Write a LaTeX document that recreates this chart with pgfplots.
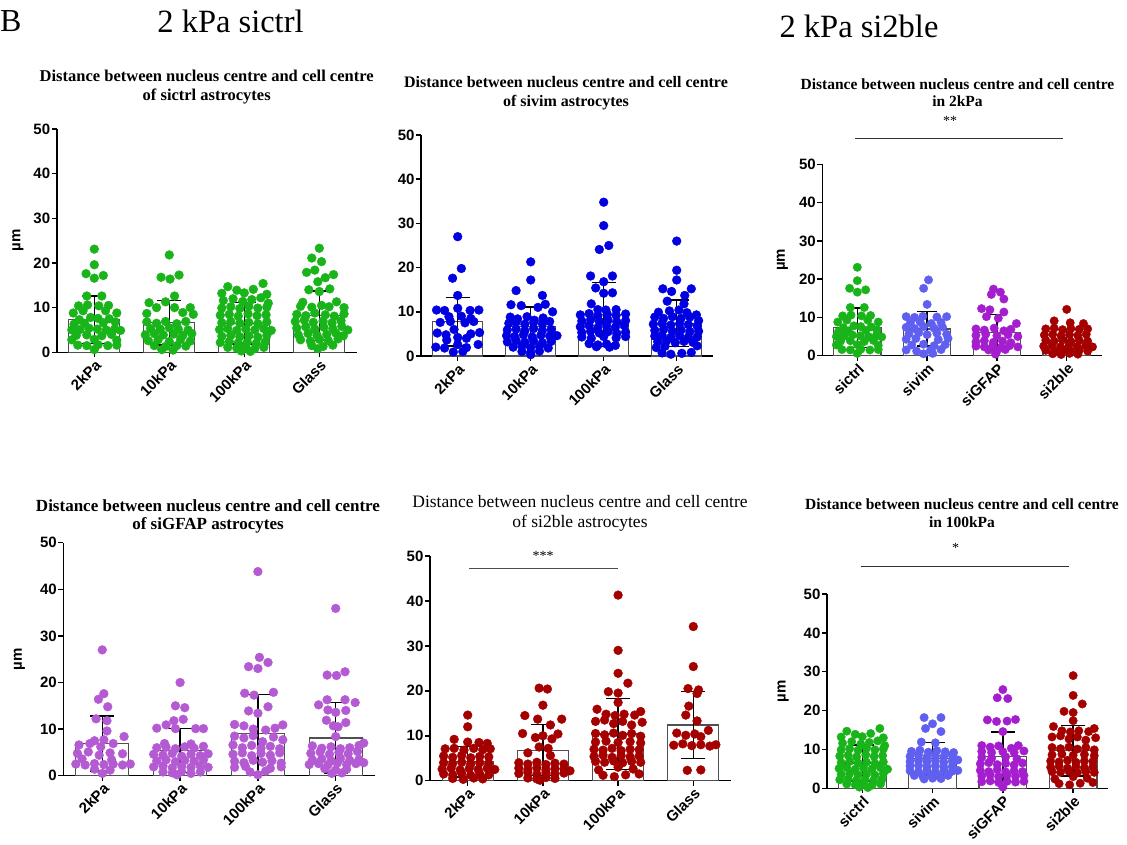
\documentclass[border=0pt]{standalone}
\usepackage{pgfplots}
\pgfplotsset{compat=1.18}
\usepackage{pgfplotstable}
\usepackage{fontspec}
\setmainfont{Liberation Serif}
\newfontfamily\sansf{Liberation Sans}
\newcommand\tickf{\sansf\bfseries\fontsize{15}{15}\selectfont}
\newcommand\labf{\sansf\bfseries\fontsize{15}{15}\selectfont}
\newcommand\ttlb[1]{\bfseries\fontsize{#1}{19}\selectfont}
\newcommand\ttlr[1]{\fontsize{#1}{19}\selectfont}
\definecolor{cg}{RGB}{25,180,25}
\definecolor{cb}{RGB}{0,0,225}
\definecolor{clb}{RGB}{95,95,240}
\definecolor{clp}{RGB}{180,90,210}
\definecolor{cp}{RGB}{165,30,205}
\definecolor{cr}{RGB}{165,0,0}
\definecolor{barc}{RGB}{80,80,80}

% ---------- panel A: sictrl ----------
\pgfplotstableread[row sep=\\]{dx y\\ 0 23.1\\ 0 19.6\\ -0.11 17.6\\ 0.12 17.2\\ 0 16.6\\ -0.1 12.6\\ 0.1 12.6\\ -0.21 10.4\\ -0.09 10.6\\ 0.06 10.4\\ 0.19 10.5\\ -0.28 8.8\\ 0.3 8.8\\ -0.15 9.3\\ 0.15 9.3\\ -0.05 7.8\\ 0.05 7.6\\ -0.2 7.3\\ 0.2 7.5\\ 0.28 6.8\\ -0.27 6.3\\ -0.13 6.5\\ 0.12 6.6\\ -0.3 5.0\\ -0.19 5.1\\ -0.07 5.4\\ 0.04 5.2\\ 0.16 5.0\\ 0.27 5.2\\ 0.35 4.9\\ -0.24 3.8\\ -0.1 3.9\\ 0.1 3.7\\ 0.23 4.0\\ -0.3 2.8\\ 0 2.9\\ 0.3 2.7\\ -0.22 1.6\\ -0.1 1.5\\ 0.05 1.7\\ 0.18 1.5\\ 0.3 1.6\\ 0 0.6\\}\TAa
\pgfplotstableread[row sep=\\]{dx y\\ 0 21.8\\ -0.11 16.8\\ 0.01 16.4\\ 0.13 17.3\\ 0.07 12.6\\ -0.27 11.1\\ -0.05 11.3\\ -0.17 10.0\\ 0.07 10.0\\ 0.28 10.0\\ -0.3 8.7\\ 0.18 8.9\\ 0.32 8.5\\ -0.3 6.8\\ -0.17 6.5\\ -0.05 6.9\\ 0.1 6.4\\ 0.22 6.9\\ -0.25 5.3\\ -0.12 5.2\\ 0 5.5\\ 0.12 5.2\\ 0.25 5.0\\ -0.32 3.9\\ -0.2 4.2\\ -0.08 3.9\\ 0.06 4.1\\ 0.18 3.8\\ 0.3 4.2\\ -0.28 2.6\\ -0.15 2.8\\ 0 2.4\\ 0.15 2.9\\ 0.28 2.5\\ -0.2 1.5\\ -0.05 1.3\\ 0.1 1.5\\ 0.22 1.4\\ -0.1 0.6\\ 0.05 0.5\\}\TAb
\pgfplotstableread[row sep=\\]{dx y\\ -0.22 14.7\\ -0.1 13.9\\ 0 13.3\\ 0.12 14.1\\ 0.25 15.4\\ -0.3 13.2\\ 0.3 13.0\\ -0.28 11.6\\ -0.15 12.0\\ -0.02 11.4\\ 0.1 11.8\\ 0.22 12.2\\ 0.32 11.0\\ -0.3 9.9\\ -0.18 10.2\\ -0.06 9.8\\ 0.06 10.3\\ 0.18 9.9\\ 0.3 10.1\\ -0.32 8.3\\ -0.2 8.5\\ -0.08 8.1\\ 0.05 8.6\\ 0.17 8.2\\ 0.29 8.4\\ -0.3 6.6\\ -0.18 6.9\\ -0.06 6.5\\ 0.06 6.7\\ 0.18 6.4\\ 0.3 6.8\\ -0.33 5.1\\ -0.22 5.3\\ -0.1 4.9\\ 0.02 5.2\\ 0.14 5.0\\ 0.26 5.3\\ 0.36 4.9\\ -0.3 3.6\\ -0.18 3.8\\ -0.06 3.5\\ 0.06 3.7\\ 0.18 3.4\\ 0.3 3.8\\ -0.32 2.2\\ -0.2 2.4\\ -0.08 2.1\\ 0.04 2.3\\ 0.16 2.0\\ 0.28 2.3\\ -0.22 1.1\\ -0.1 0.9\\ 0.02 1.2\\ 0.14 0.8\\ 0.26 1.1\\ -0.04 0.3\\ 0.08 0.2\\}\TAc
\pgfplotstableread[row sep=\\]{dx y\\ 0 23.3\\ -0.1 21.1\\ 0.03 20.3\\ -0.17 17.9\\ -0.06 18.4\\ 0.08 16.7\\ 0.19 17.4\\ -0.02 15.8\\ -0.14 14.0\\ 0 13.6\\ 0.14 14.2\\ -0.22 11.2\\ 0.23 11.3\\ 0.33 10.0\\ -0.25 10.3\\ -0.1 10.1\\ 0.03 10.5\\ 0.13 10.2\\ -0.3 8.5\\ -0.18 8.2\\ -0.06 8.8\\ 0.08 8.4\\ 0.2 8.1\\ 0.33 8.6\\ -0.32 6.9\\ -0.2 7.2\\ -0.08 6.7\\ 0.05 7.0\\ 0.17 6.6\\ 0.29 7.1\\ -0.3 5.4\\ -0.18 5.7\\ -0.06 5.2\\ 0.06 5.6\\ 0.18 5.3\\ 0.3 5.8\\ 0.38 5.0\\ -0.28 3.9\\ -0.15 4.2\\ -0.03 3.8\\ 0.1 4.0\\ 0.22 4.3\\ 0.32 3.7\\ -0.25 2.8\\ -0.12 2.5\\ 0 2.9\\ 0.12 2.6\\ 0.25 3.0\\ -0.1 1.5\\ 0.05 1.3\\ 0.18 1.6\\ -0.02 0.8\\}\TAd
% ---------- panel B: sivim ----------
\pgfplotstableread[row sep=\\]{dx y\\ 0 27.0\\ 0.05 19.8\\ -0.07 17.6\\ 0 13.7\\ -0.29 10.4\\ -0.18 10.3\\ 0 10.8\\ 0.17 10.3\\ 0.29 10.4\\ -0.12 8.9\\ 0.05 9.0\\ 0.18 8.5\\ -0.24 7.6\\ -0.1 7.8\\ 0.1 7.5\\ 0.22 7.8\\ -0.05 6.0\\ -0.28 5.2\\ -0.16 4.8\\ 0.18 5.0\\ 0.3 5.3\\ 0 4.2\\ -0.15 3.6\\ 0.12 4.0\\ -0.3 2.0\\ -0.18 1.8\\ 0.12 1.9\\ 0.28 2.6\\ 0 2.6\\ -0.06 0.9\\ 0.07 1.0\\}\TBa
\pgfplotstableread[row sep=\\]{dx y\\ 0 21.3\\ 0 17.2\\ -0.2 14.8\\ 0.16 13.7\\ -0.27 11.6\\ -0.13 11.4\\ 0.1 11.0\\ 0.2 11.7\\ -0.28 8.8\\ -0.18 8.4\\ -0.05 8.9\\ 0.05 8.1\\ 0.17 8.6\\ 0.3 10.0\\ -0.3 7.4\\ -0.2 7.7\\ -0.08 7.2\\ 0.04 7.6\\ 0.16 7.3\\ 0.26 7.8\\ -0.32 5.9\\ -0.2 6.1\\ -0.08 5.7\\ 0.04 6.2\\ 0.16 5.8\\ 0.28 6.0\\ -0.33 4.6\\ -0.22 4.4\\ -0.1 4.8\\ 0.02 4.3\\ 0.14 4.7\\ 0.26 4.5\\ 0.36 4.6\\ -0.32 3.2\\ -0.2 3.5\\ -0.08 3.1\\ 0.04 3.4\\ 0.16 3.0\\ 0.28 3.3\\ -0.24 2.0\\ -0.12 2.3\\ 0 1.9\\ 0.12 2.2\\ 0.24 1.8\\ -0.12 1.0\\ 0 0.8\\ 0.12 1.1\\ 0 0.3\\}\TBb
\pgfplotstableread[row sep=\\]{dx y\\ 0 34.8\\ 0 29.5\\ -0.06 24.1\\ 0.07 25.0\\ -0.18 18.1\\ 0.12 18.1\\ 0 16.8\\ -0.11 15.4\\ 0.12 14.3\\ 0 14.2\\ -0.17 11.8\\ 0.17 10.5\\ 0.03 10.4\\ -0.08 10.5\\ -0.32 9.3\\ -0.2 9.6\\ -0.08 9.1\\ 0.05 9.4\\ 0.17 9.2\\ 0.3 9.5\\ -0.3 7.9\\ -0.18 8.2\\ -0.06 7.8\\ 0.06 8.1\\ 0.18 7.7\\ 0.3 8.0\\ -0.32 6.6\\ -0.2 6.9\\ -0.08 6.4\\ 0.04 6.8\\ 0.16 6.5\\ 0.28 6.9\\ -0.3 5.3\\ -0.18 5.6\\ -0.06 5.2\\ 0.06 5.5\\ 0.18 5.1\\ 0.3 5.4\\ -0.3 4.3\\ -0.17 4.0\\ 0 4.4\\ 0.17 4.1\\ 0.3 4.4\\ -0.2 2.8\\ -0.08 2.5\\ 0.04 2.7\\ 0.16 2.4\\ -0.1 2.1\\ 0.08 2.0\\}\TBc
\pgfplotstableread[row sep=\\]{dx y\\ 0 26.0\\ 0 19.4\\ 0 17.2\\ -0.19 15.2\\ -0.07 14.6\\ 0.11 13.7\\ 0.2 15.2\\ -0.13 12.4\\ 0.1 11.8\\ -0.25 9.9\\ -0.1 10.2\\ 0.03 10.4\\ 0.14 9.8\\ 0.27 9.3\\ -0.3 8.8\\ -0.18 8.5\\ -0.06 8.9\\ 0.06 8.5\\ 0.18 8.8\\ 0.3 8.0\\ -0.32 7.2\\ -0.2 7.4\\ -0.08 7.0\\ 0.04 7.3\\ 0.16 7.1\\ 0.28 6.8\\ -0.3 5.8\\ -0.18 6.0\\ -0.06 5.6\\ 0.06 5.9\\ 0.18 5.5\\ 0.3 5.6\\ -0.3 4.5\\ -0.2 4.7\\ -0.08 4.2\\ 0.04 4.6\\ 0.16 4.3\\ 0.28 4.3\\ -0.26 3.2\\ -0.14 3.4\\ -0.02 3.0\\ 0.1 3.3\\ 0.22 3.1\\ -0.28 1.9\\ -0.16 2.2\\ 0.28 2.3\\ -0.2 0.7\\ -0.08 0.4\\ 0.07 0.6\\ 0.2 0.8\\}\TBd
% ---------- panel C: 2kPa ----------
\pgfplotstableread[row sep=\\]{dx y\\ 0.02 19.8\\ -0.05 17.6\\ 0 13.4\\ -0.3 10.2\\ -0.18 10.0\\ -0.06 10.3\\ 0.14 10.1\\ 0.28 10.2\\ -0.24 8.6\\ -0.1 8.8\\ 0.06 8.4\\ 0.2 8.7\\ -0.3 7.4\\ -0.18 7.1\\ -0.05 7.6\\ 0.1 7.2\\ 0.22 7.5\\ -0.26 5.7\\ -0.12 6.0\\ 0 5.5\\ 0.14 5.9\\ 0.28 5.6\\ -0.3 4.3\\ -0.16 4.5\\ 0.16 4.2\\ 0.3 4.5\\ -0.22 2.8\\ -0.05 3.0\\ 0.1 2.6\\ 0.26 2.9\\ -0.3 1.5\\ -0.15 1.2\\ 0.05 1.5\\ 0.2 1.6\\ -0.05 0.5\\ 0.08 0.6\\}\TCb
\pgfplotstableread[row sep=\\]{dx y\\ -0.05 17.4\\ 0.05 16.6\\ -0.08 16.0\\ 0.1 14.8\\ -0.22 12.3\\ -0.1 12.0\\ 0.1 11.4\\ -0.15 10.2\\ 0.02 9.8\\ 0.28 8.4\\ -0.3 7.0\\ -0.18 6.7\\ -0.04 7.2\\ 0.1 6.5\\ 0.2 6.9\\ -0.3 5.3\\ -0.16 5.6\\ 0 5.2\\ 0.16 5.5\\ 0.3 5.0\\ -0.3 3.6\\ -0.18 3.9\\ -0.05 3.5\\ 0.08 3.8\\ 0.2 3.4\\ -0.3 2.5\\ -0.18 2.3\\ -0.06 2.6\\ 0.06 2.2\\ 0.18 2.6\\ 0.3 2.3\\ -0.12 1.5\\ 0 1.2\\ 0.12 1.6\\ -0.02 0.4\\}\TCc
\pgfplotstableread[row sep=\\]{dx y\\ 0 12.1\\ -0.18 9.1\\ 0.05 8.6\\ 0.24 8.4\\ -0.3 7.0\\ -0.18 7.2\\ -0.06 6.8\\ 0.06 7.1\\ 0.18 6.9\\ 0.3 7.0\\ -0.32 5.4\\ -0.2 5.6\\ -0.08 5.2\\ 0.04 5.5\\ 0.16 5.3\\ 0.28 5.6\\ -0.3 4.0\\ -0.18 3.8\\ -0.06 4.1\\ 0.06 3.7\\ 0.18 4.0\\ 0.3 3.8\\ -0.33 2.5\\ -0.21 2.7\\ -0.09 2.3\\ 0.03 2.6\\ 0.15 2.4\\ 0.27 2.6\\ 0.37 2.3\\ -0.3 1.4\\ -0.18 1.2\\ -0.06 1.5\\ 0.06 1.1\\ 0.18 1.4\\ 0.3 1.2\\ -0.2 0.5\\ -0.08 0.3\\ 0.04 0.6\\ 0.16 0.4\\}\TCd
% ---------- panel D: siGFAP ----------
\pgfplotstableread[row sep=\\]{dx y\\ 0 27.0\\ 0.02 17.6\\ -0.05 16.4\\ 0.07 14.8\\ -0.08 12.2\\ 0.06 11.8\\ 0.06 9.6\\ 0.28 8.4\\ -0.1 7.5\\ 0.02 7.7\\ -0.3 6.6\\ -0.16 6.9\\ -0.02 6.2\\ 0.14 6.9\\ -0.32 4.8\\ -0.18 5.1\\ -0.04 4.4\\ 0.1 4.9\\ 0.26 4.7\\ -0.26 3.6\\ 0.12 3.4\\ -0.34 2.5\\ -0.22 2.3\\ -0.1 2.6\\ 0.02 2.4\\ 0.14 2.5\\ 0.26 2.3\\ 0.36 2.5\\ -0.1 1.4\\ 0.1 1.2\\ 0 0.5\\}\TDa
\pgfplotstableread[row sep=\\]{dx y\\ 0 20.0\\ -0.06 15.0\\ 0.06 14.6\\ -0.08 11.8\\ 0.04 12.1\\ -0.18 10.9\\ -0.3 10.2\\ -0.06 10.1\\ 0.2 10.1\\ 0.3 10.1\\ -0.2 6.9\\ 0.14 6.8\\ -0.3 6.0\\ -0.18 6.1\\ -0.06 5.8\\ 0.06 6.2\\ 0.18 5.9\\ 0.3 6.3\\ -0.34 4.6\\ -0.22 4.4\\ -0.1 4.8\\ 0.02 4.2\\ 0.14 4.6\\ 0.26 4.3\\ 0.36 4.7\\ -0.3 3.2\\ -0.18 3.4\\ -0.06 3.0\\ 0.06 3.3\\ 0.18 3.1\\ 0.3 3.4\\ -0.34 1.9\\ -0.22 2.1\\ -0.1 1.7\\ 0.02 2.0\\ 0.14 1.8\\ 0.26 2.1\\ 0.36 1.8\\ -0.22 0.8\\ -0.1 0.6\\ 0.02 0.9\\ 0.14 0.5\\ 0.26 0.8\\ -0.04 0.2\\}\TDb
\pgfplotstableread[row sep=\\]{dx y\\ 0 43.8\\ 0.02 25.4\\ 0.13 24.3\\ -0.12 23.4\\ 0 23.0\\ -0.17 17.7\\ 0.2 17.9\\ -0.05 17.3\\ -0.12 13.9\\ 0.13 14.8\\ 0 13.4\\ -0.3 11.0\\ -0.18 10.7\\ -0.06 10.0\\ 0.1 9.8\\ 0.22 10.2\\ 0.32 10.9\\ -0.3 8.5\\ -0.18 8.1\\ -0.06 8.6\\ 0.06 7.3\\ 0.2 8.3\\ 0.32 7.7\\ -0.32 6.6\\ -0.2 6.0\\ -0.08 6.5\\ 0.04 5.9\\ 0.16 6.3\\ 0.28 5.8\\ -0.32 4.6\\ -0.2 4.9\\ -0.08 4.3\\ 0.04 4.8\\ 0.16 4.4\\ 0.28 4.9\\ -0.3 3.1\\ -0.18 2.8\\ -0.06 3.3\\ 0.06 2.9\\ 0.18 3.2\\ 0.3 2.7\\ -0.3 1.8\\ -0.16 2.0\\ 0.16 1.6\\ 0.3 1.9\\ -0.1 0.8\\ 0 0.2\\ 0.1 1.0\\}\TDc
\pgfplotstableread[row sep=\\]{dx y\\ 0 35.9\\ 0.12 22.3\\ -0.11 21.6\\ 0.01 21.5\\ -0.22 15.2\\ -0.11 16.3\\ 0.12 16.3\\ 0.25 15.7\\ -0.1 14.1\\ 0.13 14.0\\ 0 13.6\\ -0.12 11.9\\ 0.13 11.4\\ -0.03 10.7\\ 0.03 10.5\\ 0 8.4\\ -0.3 6.4\\ -0.18 5.9\\ -0.06 6.2\\ 0.06 5.8\\ 0.18 6.0\\ 0.3 6.5\\ 0.36 7.0\\ -0.32 4.8\\ -0.2 5.1\\ -0.08 4.6\\ 0.04 5.0\\ 0.16 4.7\\ 0.28 5.2\\ -0.3 3.4\\ -0.18 3.6\\ -0.06 3.2\\ 0.06 3.7\\ 0.18 3.3\\ 0.3 3.5\\ -0.34 2.4\\ -0.22 2.6\\ -0.1 2.3\\ 0.02 2.7\\ 0.14 2.4\\ 0.26 2.6\\ 0.36 2.8\\ -0.14 1.5\\ 0 1.2\\ 0.14 1.4\\ -0.05 0.5\\ 0.08 0.6\\}\TDd
% ---------- panel E: si2ble ----------
\pgfplotstableread[row sep=\\]{dx y\\ 0 14.6\\ 0 12.0\\ -0.18 9.2\\ 0 8.6\\ 0.15 8.5\\ 0.26 8.3\\ -0.3 7.1\\ -0.18 7.2\\ -0.05 6.8\\ 0.08 7.2\\ 0.2 6.9\\ 0.3 7.1\\ -0.32 5.5\\ -0.2 5.2\\ -0.08 5.6\\ 0.04 5.1\\ 0.16 5.4\\ 0.28 5.3\\ -0.32 4.0\\ -0.2 3.8\\ -0.08 4.1\\ 0.04 3.7\\ 0.16 4.0\\ 0.28 3.8\\ -0.34 2.6\\ -0.22 2.8\\ -0.1 2.4\\ 0.02 2.7\\ 0.14 2.5\\ 0.26 2.8\\ 0.36 2.5\\ -0.32 1.5\\ -0.2 1.3\\ -0.08 1.6\\ 0.04 1.2\\ 0.16 1.5\\ 0.28 1.3\\ -0.2 0.5\\ -0.06 0.3\\ 0.08 0.6\\ 0.2 0.4\\}\TEa
\pgfplotstableread[row sep=\\]{dx y\\ -0.05 20.6\\ 0.06 20.4\\ 0 16.8\\ -0.24 14.5\\ -0.07 13.7\\ 0.25 13.7\\ 0.1 12.4\\ -0.27 10.5\\ -0.1 9.6\\ 0 10.0\\ 0.12 9.3\\ 0.2 10.4\\ -0.05 7.5\\ 0.07 7.2\\ -0.2 6.2\\ 0.1 5.6\\ -0.32 4.0\\ -0.2 3.7\\ -0.08 4.1\\ 0.04 3.6\\ 0.16 3.9\\ 0.28 3.7\\ -0.32 2.8\\ -0.2 2.5\\ -0.08 2.9\\ 0.04 2.4\\ 0.16 2.7\\ 0.28 2.6\\ 0.36 2.2\\ -0.32 1.6\\ -0.2 1.9\\ -0.08 1.4\\ 0.04 1.8\\ 0.16 1.5\\ 0.28 1.7\\ -0.2 0.6\\ -0.08 0.4\\ 0.04 0.7\\ 0.16 0.5\\ -0.04 0.1\\}\TEb
\pgfplotstableread[row sep=\\]{dx y\\ 0 41.3\\ 0 29.0\\ 0 23.9\\ 0.13 21.7\\ -0.13 19.8\\ 0 19.5\\ 0 17.4\\ -0.28 15.9\\ -0.16 14.8\\ -0.04 14.5\\ 0.08 14.8\\ 0.22 14.6\\ 0.3 15.4\\ -0.3 13.2\\ -0.18 13.5\\ -0.06 12.7\\ 0.06 13.2\\ 0.18 12.4\\ 0.32 13.0\\ -0.3 10.5\\ -0.18 10.2\\ -0.06 10.6\\ 0.06 10.1\\ 0.18 10.5\\ 0.3 9.9\\ -0.3 8.6\\ -0.16 8.8\\ 0 8.5\\ 0.16 8.7\\ 0.3 8.4\\ -0.32 7.0\\ -0.2 6.8\\ -0.08 7.2\\ 0.04 6.7\\ 0.16 7.0\\ 0.28 6.9\\ -0.32 5.4\\ -0.2 5.7\\ -0.08 5.2\\ 0.04 5.6\\ 0.16 5.3\\ 0.28 5.5\\ -0.3 4.3\\ -0.18 4.1\\ -0.06 4.4\\ 0.06 4.0\\ 0.18 4.3\\ 0.3 4.1\\ -0.26 2.4\\ 0 3.0\\ 0.2 2.6\\ -0.2 1.2\\ -0.05 0.9\\ 0.1 1.3\\ 0.28 1.5\\}\TEc
\pgfplotstableread[row sep=\\]{dx y\\ 0 34.3\\ 0 25.4\\ -0.07 20.5\\ 0.07 20.2\\ 0.05 19.4\\ -0.06 16.6\\ -0.1 14.6\\ 0.05 13.3\\ -0.22 10.6\\ -0.1 10.1\\ 0.02 10.4\\ 0.2 11.2\\ 0.1 9.8\\ -0.26 7.9\\ -0.14 8.2\\ -0.02 7.8\\ 0.1 8.0\\ 0.22 7.7\\ 0.3 8.0\\ -0.08 2.3\\ 0.1 2.4\\}\TEd
% ---------- panel F: 100kPa ----------
\pgfplotstableread[row sep=\\]{dx y\\ -0.12 18.2\\ 0.12 18.2\\ 0 16.6\\ -0.1 15.4\\ 0.12 14.6\\ -0.16 11.9\\ 0.04 11.7\\ -0.3 9.5\\ -0.18 9.8\\ -0.06 9.3\\ 0.06 9.7\\ 0.18 9.4\\ 0.3 9.2\\ -0.32 8.2\\ -0.2 8.5\\ -0.08 8.0\\ 0.04 8.4\\ 0.16 8.1\\ 0.28 8.5\\ -0.32 6.9\\ -0.2 7.2\\ -0.08 6.8\\ 0.04 7.1\\ 0.16 6.7\\ 0.28 7.0\\ 0.36 7.3\\ -0.32 5.7\\ -0.2 5.9\\ -0.08 5.5\\ 0.04 5.8\\ 0.16 5.4\\ 0.28 5.6\\ -0.32 4.5\\ -0.2 4.3\\ -0.08 4.7\\ 0.04 4.2\\ 0.16 4.6\\ 0.28 4.4\\ 0.36 4.6\\ -0.26 3.3\\ -0.14 3.1\\ -0.02 3.4\\ 0.1 3.0\\ 0.22 3.3\\ -0.12 2.4\\ 0 2.6\\ 0.12 2.5\\}\TFb
\pgfplotstableread[row sep=\\]{dx y\\ 0 25.4\\ -0.08 23.3\\ 0.07 23.1\\ -0.22 17.6\\ -0.09 17.2\\ 0.06 17.3\\ 0.18 17.7\\ 0 14.6\\ -0.3 11.0\\ -0.18 10.6\\ -0.06 10.9\\ 0.12 10.3\\ 0.22 11.0\\ -0.3 9.5\\ -0.16 9.2\\ 0 9.4\\ 0.16 9.2\\ 0.3 9.6\\ -0.3 8.0\\ -0.16 7.7\\ 0.04 8.1\\ 0.2 7.6\\ -0.32 6.3\\ -0.2 6.6\\ -0.08 6.1\\ 0.04 6.4\\ 0.16 6.0\\ 0.28 6.5\\ -0.32 4.6\\ -0.2 4.3\\ -0.08 4.8\\ 0.04 4.2\\ 0.16 4.5\\ 0.28 4.3\\ -0.3 3.2\\ -0.18 3.5\\ -0.06 3.0\\ 0.06 3.4\\ 0.18 3.1\\ 0.3 3.3\\ -0.3 1.7\\ -0.18 1.9\\ -0.06 1.5\\ 0.06 1.8\\ 0.18 1.6\\ 0.3 1.8\\ 0 0.3\\}\TFc
\pgfplotstableread[row sep=\\]{dx y\\ 0 29.0\\ 0 23.9\\ 0.13 21.7\\ -0.13 19.8\\ 0 19.5\\ 0 17.4\\ -0.28 15.9\\ -0.16 14.8\\ -0.04 14.5\\ 0.08 14.8\\ 0.22 14.6\\ 0.3 15.4\\ -0.3 13.2\\ -0.18 13.5\\ -0.06 12.7\\ 0.06 13.2\\ 0.18 12.4\\ 0.32 13.0\\ -0.3 10.5\\ -0.18 10.2\\ -0.06 10.6\\ 0.06 10.1\\ 0.18 10.5\\ 0.3 9.9\\ -0.3 8.6\\ -0.16 8.8\\ 0 8.5\\ 0.16 8.7\\ 0.3 8.4\\ -0.32 7.0\\ -0.2 6.8\\ -0.08 7.2\\ 0.04 6.7\\ 0.16 7.0\\ 0.28 6.9\\ -0.32 5.4\\ -0.2 5.7\\ -0.08 5.2\\ 0.04 5.6\\ 0.16 5.3\\ 0.28 5.5\\ -0.3 4.3\\ -0.18 4.1\\ -0.06 4.4\\ 0.06 4.0\\ 0.18 4.3\\ 0.3 4.1\\ -0.26 2.4\\ 0 3.0\\ 0.2 2.6\\ -0.2 1.2\\ -0.05 0.9\\ 0.1 1.3\\ 0.28 1.5\\}\TFd

\pgfplotsset{
  panel/.style={scale only axis, anchor=south west,
    xmin=-0.5, xmax=3.5, ymin=0, ymax=50, clip=false,
    axis x line*=bottom, axis y line*=left,
    axis line style={line width=1.5pt, black},
    ytick={0,10,20,30,40,50}, xtick={0,1,2,3},
    tick align=outside, major tick length=5pt,
    tick style={line width=1.5pt, black},
    /pgf/number format/assume math mode=true,
    yticklabel style={font=\tickf, inner sep=1.5pt},
    xticklabel style={font=\tickf, rotate=45, anchor=north east, inner sep=1pt},
  },
  dots/.style={only marks, mark=*, mark size=#1, mark options={draw=none}},
  bars/.style={ybar, bar width=0.68, fill=white, draw=barc, line width=1.2pt},
  errs/.style={draw=none, mark=none, forget plot,
    error bars/.cd, y dir=both, y explicit,
    error bar style={solid, draw=black, line width=1.4pt},
    error mark options={rotate=90, mark size=#1, draw=black, line width=1.4pt}},
}

\begin{document}
\begin{tikzpicture}
\useasboundingbox (0,0) rectangle (1127pt,844pt);
\fill[white] (0,0) rectangle (1127pt,844pt);

% headers
\node[anchor=base west, inner sep=0pt, font=\fontsize{32}{32}\selectfont] at (0pt,812pt) {B};
\node[anchor=base, inner sep=0pt, font=\fontsize{32.5}{32}\selectfont] at (230.5pt,811pt) {2 kPa sictrl};
\node[anchor=base, inner sep=0pt, font=\fontsize{32.5}{32}\selectfont] at (859pt,806pt) {2 kPa si2ble};

% titles
\node[anchor=base, inner sep=0pt, font=\ttlb{16.5}] at (206.7pt,762pt) {Distance between nucleus centre and cell centre};
\node[anchor=base, inner sep=0pt, font=\ttlb{16.5}] at (206.7pt,743.3pt) {of sictrl astrocytes};
\node[anchor=base, inner sep=0pt, font=\ttlb{16}] at (566pt,756.3pt) {Distance between nucleus centre and cell centre};
\node[anchor=base, inner sep=0pt, font=\ttlb{16}] at (566pt,737.3pt) {of sivim astrocytes};
\node[anchor=base, inner sep=0pt, font=\ttlb{15.5}] at (957.5pt,754.7pt) {Distance between nucleus centre and cell centre};
\node[anchor=base, inner sep=0pt, font=\ttlb{15.5}] at (957.5pt,737.3pt) {in 2kPa};
\node[anchor=base, inner sep=0pt, font=\ttlb{17}] at (208pt,332pt) {Distance between nucleus centre and cell centre};
\node[anchor=base, inner sep=0pt, font=\ttlb{17}] at (208pt,314pt) {of siGFAP astrocytes};
\node[anchor=base, inner sep=0pt, font=\ttlr{17.5}] at (580pt,336pt) {Distance between nucleus centre and cell centre};
\node[anchor=base, inner sep=0pt, font=\ttlr{17.5}] at (580pt,316pt) {of si2ble astrocytes};
\node[anchor=base, inner sep=0pt, font=\ttlb{15.5}] at (962pt,334.7pt) {Distance between nucleus centre and cell centre};
\node[anchor=base, inner sep=0pt, font=\ttlb{15.5}] at (962pt,316.3pt) {in 100kPa};

% significance annotations
\node[anchor=base, inner sep=0pt, font=\fontsize{14}{14}\selectfont] at (950pt,718pt) {**};
\draw[line width=1pt, black!80] (855pt,705.7pt) -- (1062.7pt,705.7pt);
\node[anchor=base, inner sep=0pt, font=\fontsize{14}{14}\selectfont] at (543pt,283pt) {***};
\draw[line width=1pt, black!70] (469pt,275pt) -- (617.7pt,275pt);
\node[anchor=base, inner sep=0pt, font=\fontsize{14}{14}\selectfont] at (955.7pt,291pt) {*};
\draw[line width=1pt, black!80] (860.7pt,277.3pt) -- (1069pt,277.3pt);

% ===== Panel A =====
\begin{axis}[panel, at={(56.8pt,491.7pt)}, width=300pt, height=223.3pt,
  xticklabels={2kPa,10kPa,100kPa,Glass}]
\addplot[bars] coordinates {(0,7.3) (1,6.6) (2,6.5) (3,8.2)};
\addplot[dots=4.4pt, cg] table[x expr=\thisrow{dx}+0, y=y]{\TAa};
\addplot[dots=4.4pt, cg] table[x expr=\thisrow{dx}+1, y=y]{\TAb};
\addplot[dots=4.4pt, cg] table[x expr=\thisrow{dx}+2, y=y]{\TAc};
\addplot[dots=4.4pt, cg] table[x expr=\thisrow{dx}+3, y=y]{\TAd};
\addplot[errs=12pt] coordinates {(0,7.3) +- (0,5.3) (1,6.6) +- (0,5.0) (2,6.5) +- (0,4.6) (3,8.2) +- (0,5.5)};
\node[rotate=90, font=\labf] at ([xshift=-39pt]axis cs:-0.5,25) {µm};
\end{axis}

% ===== Panel B =====
\begin{axis}[panel, at={(421.2pt,488pt)}, width=292pt, height=221pt,
  xticklabels={2kPa,10kPa,100kPa,Glass}]
\addplot[bars] coordinates {(0,7.8) (1,6.6) (2,9.4) (3,7.4)};
\addplot[dots=4.4pt, cb] table[x expr=\thisrow{dx}+0, y=y]{\TBa};
\addplot[dots=4.4pt, cb] table[x expr=\thisrow{dx}+1, y=y]{\TBb};
\addplot[dots=4.4pt, cb] table[x expr=\thisrow{dx}+2, y=y]{\TBc};
\addplot[dots=4.4pt, cb] table[x expr=\thisrow{dx}+3, y=y]{\TBd};
\addplot[errs=12pt] coordinates {(0,7.8) +- (0,5.5) (1,6.6) +- (0,4.5) (2,9.4) +- (0,7.2) (3,7.4) +- (0,5.3)};
\end{axis}

% ===== Panel C =====
\begin{axis}[panel, at={(822.4pt,488.3pt)}, width=279.2pt, height=191.4pt,
  xticklabels={sictrl,sivim,siGFAP,si2ble}]
\addplot[bars] coordinates {(0,7.3) (1,7.0) (2,6.1) (3,3.8)};
\addplot[dots=4.2pt, cg] table[x expr=\thisrow{dx}+0, y=y]{\TAa};
\addplot[dots=4.2pt, clb] table[x expr=\thisrow{dx}+1, y=y]{\TCb};
\addplot[dots=4.2pt, cp] table[x expr=\thisrow{dx}+2, y=y]{\TCc};
\addplot[dots=4.2pt, cr] table[x expr=\thisrow{dx}+3, y=y]{\TCd};
\addplot[errs=10pt] coordinates {(0,7.3) +- (0,5.2) (1,7.0) +- (0,4.5) (2,6.1) +- (0,4.6) (3,3.8) +- (0,3.1)};
\node[rotate=90, font=\labf] at ([xshift=-40pt]axis cs:-0.5,25) {µm};
\end{axis}

% ===== Panel D =====
\begin{axis}[panel, at={(63.4pt,68.3pt)}, width=311.2pt, height=233pt,
  xticklabels={2kPa,10kPa,100kPa,Glass}]
\addplot[bars] coordinates {(0,6.9) (1,5.45) (2,9.1) (3,8.1)};
\addplot[dots=4.4pt, clp] table[x expr=\thisrow{dx}+0, y=y]{\TDa};
\addplot[dots=4.4pt, clp] table[x expr=\thisrow{dx}+1, y=y]{\TDb};
\addplot[dots=4.4pt, clp] table[x expr=\thisrow{dx}+2, y=y]{\TDc};
\addplot[dots=4.4pt, clp] table[x expr=\thisrow{dx}+3, y=y]{\TDd};
\addplot[errs=12pt] coordinates {(0,6.9) +- (0,5.9) (1,5.45) +- (0,4.7) (2,9.1) +- (0,8.35) (3,8.1) +- (0,7.55)};
\node[rotate=90, font=\labf] at ([xshift=-44pt]axis cs:-0.5,25) {µm};
\end{axis}

% ===== Panel E =====
\begin{axis}[panel, at={(430.1pt,63.3pt)}, width=300.8pt, height=224.7pt,
  xticklabels={2kPa,10kPa,100kPa,Glass}]
\addplot[bars] coordinates {(0,4.2) (1,6.8) (2,10.4) (3,12.4)};
\addplot[dots=4.4pt, cr] table[x expr=\thisrow{dx}+0, y=y]{\TEa};
\addplot[dots=4.4pt, cr] table[x expr=\thisrow{dx}+1, y=y]{\TEb};
\addplot[dots=4.4pt, cr] table[x expr=\thisrow{dx}+2, y=y]{\TEc};
\addplot[dots=4.4pt, cr] table[x expr=\thisrow{dx}+3, y=y]{\TEd};
\addplot[errs=12pt] coordinates {(0,4.2) +- (0,3.4) (1,6.8) +- (0,5.7) (2,10.4) +- (0,7.9) (3,12.4) +- (0,7.5)};
\end{axis}

% ===== Panel F =====
\begin{axis}[panel, at={(827.1pt,55.7pt)}, width=281.2pt, height=194.3pt,
  xticklabels={sictrl,sivim,siGFAP,si2ble}]
\addplot[bars] coordinates {(0,6.5) (1,7.6) (2,8.1) (3,9.7)};
\addplot[dots=4.2pt, cg] table[x expr=\thisrow{dx}+0, y=y]{\TAc};
\addplot[dots=4.2pt, clb] table[x expr=\thisrow{dx}+1, y=y]{\TFb};
\addplot[dots=4.2pt, cp] table[x expr=\thisrow{dx}+2, y=y]{\TFc};
\addplot[dots=4.2pt, cr] table[x expr=\thisrow{dx}+3, y=y]{\TFd};
\addplot[errs=12pt] coordinates {(0,6.5) +- (0,4.6) (1,7.6) +- (0,4.2) (2,8.1) +- (0,6.4) (3,9.7) +- (0,6.5)};
\node[rotate=90, font=\labf] at ([xshift=-44pt]axis cs:-0.5,25) {µm};
\end{axis}
\end{tikzpicture}
\end{document}
